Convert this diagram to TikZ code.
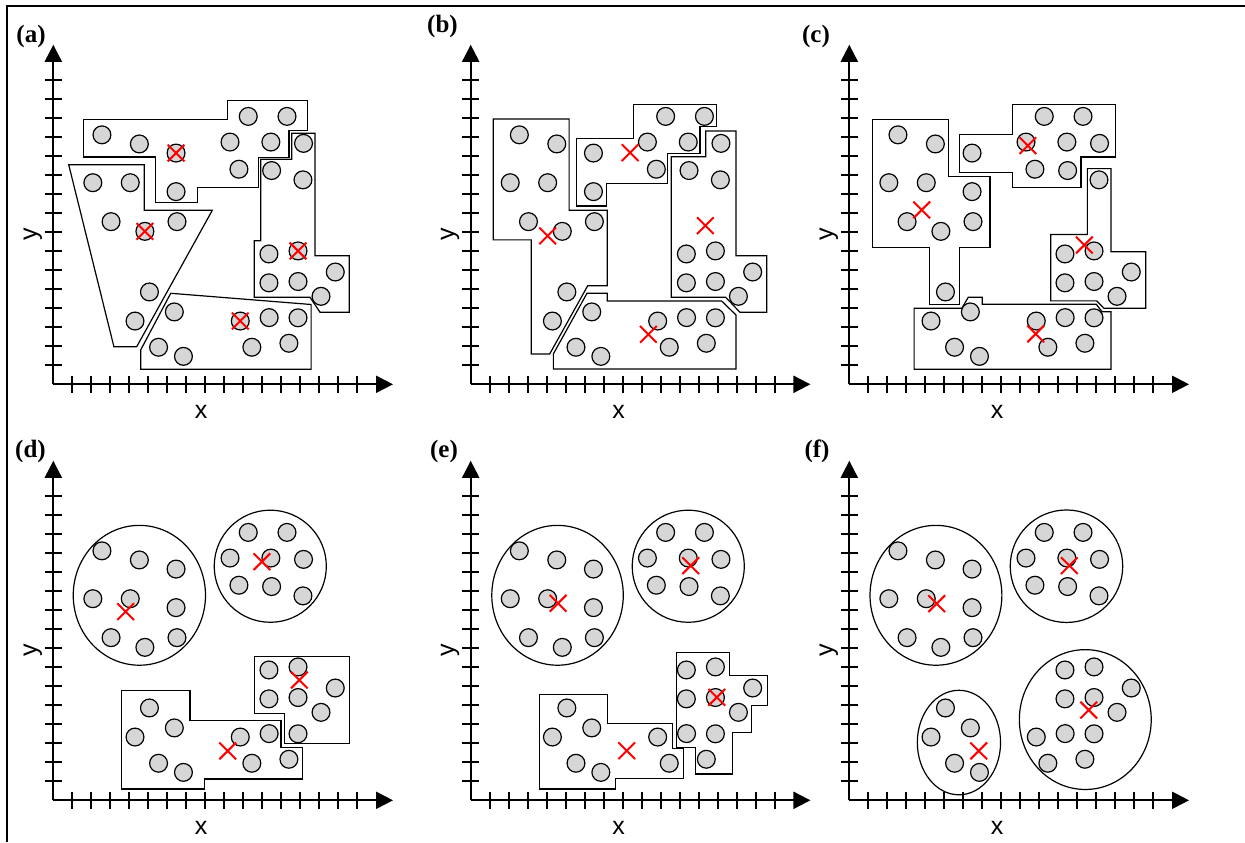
\documentclass[tikz,border=0pt]{standalone}
\usepackage{fontspec}
\setmainfont{Liberation Serif}
\setsansfont{Liberation Sans}
\usetikzlibrary{arrows.meta}
\tikzset{
 axisline/.style={line width=1.05pt, -{Triangle[length=8.5pt,width=8.5pt]}},
 tickmark/.style={line width=1.05pt},
 region/.style={line width=0.6pt, line join=miter},
 datapt/.style={line width=0.6pt, fill=black!16, draw=black},
 centremark/.style={red, line width=1pt},
 plabel/.style={font=\fontsize{12.5}{14}\selectfont\bfseries, inner sep=0pt},
 alabel/.style={font=\fontsize{12.5}{14}\selectfont\sffamily, inner sep=0pt},
}
\newcommand\drawaxes[1]{%
  \draw[axisline] (0,0) -- (0,17.87);
  \draw[axisline] (0,0) -- (17.88,0);
  \foreach \k in {1,...,16} {\draw[tickmark] (\k,-0.44) -- (\k,0.44); \draw[tickmark] (-0.44,\k) -- (0.44,\k);}
  \node[alabel] (x#1) at (7.78,-1.43) {x};
  \node[alabel, rotate=90] (y#1) at (-1.08,7.9) {y};
}
\newcommand\drawpoints{%
  \foreach \a/\b in {2.56/13.13, 4.53/12.65, 6.46/12.17, 10.26/14.1, 12.3/14.1, 9.30/12.75, 11.45/12.75, 9.77/11.32, 6.46/10.14, 13.17/12.68, 11.49/11.25, 13.14/10.76, 2.08/10.61, 4.05/10.61, 3.04/8.56, 4.82/8.05, 6.51/8.56, 11.35/6.86, 12.88/7.02, 14.84/5.91, 11.35/5.34, 12.88/5.41, 14.09/4.63, 5.06/4.86, 4.30/3.33, 6.37/3.81, 5.54/1.95, 6.85/1.47, 9.84/3.33, 11.36/3.51, 12.88/3.50, 10.45/1.95, 12.40/2.16}
  {\draw[datapt] (\a,\b) circle (0.47);}
}
\newcommand\redcross[2]{\draw[centremark] (#1,#2) ++(-0.44,-0.44) -- ++(0.88,0.88) (#1,#2) ++(-0.44,0.44) -- ++(0.88,-0.88);}
\begin{document}
\begin{tikzpicture}
\useasboundingbox (0,0) rectangle (622.5pt,421pt);
\fill[white] (0,0) rectangle (622.5pt,421pt);
\draw[line width=1pt] (3.65pt,0pt) -- (3.65pt,418.15pt) -- (623pt,418.15pt);
% panel labels
\node[plabel] (la) at (15.5pt,403pt) {(a)};
\node[plabel] (lb) at (221.25pt,408pt) {(b)};
\node[plabel] (lc) at (408pt,403pt) {(c)};
\node[plabel] (ld) at (15.25pt,195.5pt) {(d)};
\node[plabel] (le) at (222pt,195.5pt) {(e)};
\node[plabel] (lf) at (408.5pt,195.5pt) {(f)};

% ---------- (a)
\begin{scope}[shift={(26.65pt,228.85pt)}, x=9.5pt, y=9.5pt]
\drawaxes{a}
\draw[region] (1.58,13.95) -- (9.18,13.95) -- (9.18,14.93) -- (13.39,14.93) -- (13.39,13.35) -- (12.41,13.35) -- (12.41,11.95) -- (10.79,11.95) -- (10.79,10.37) -- (7.58,10.37) -- (7.58,9.58) -- (5.39,9.58) -- (5.39,11.96) -- (1.58,11.96) -- cycle;
\draw[region] (0.81,11.56) -- (4.79,11.56) -- (4.79,9.16) -- (8.37,9.16) -- (4.39,1.98) -- (3.19,1.98) -- cycle;
\draw[region] (12.55,13.21) -- (13.77,13.21) -- (13.77,6.77) -- (15.58,6.77) -- (15.58,3.79) -- (14.04,3.79) -- (13.51,4.58) -- (10.58,4.58) -- (10.58,7.56) -- (10.92,7.56) -- (10.92,11.84) -- (12.55,11.84) -- cycle;
\draw[region] (6.18,4.79) -- (13.57,4.20) -- (13.57,0.79) -- (4.60,0.79) -- (4.60,1.81) -- cycle;
\drawpoints
\redcross{6.46}{12.17}
\redcross{4.82}{8.05}
\redcross{12.88}{7.02}
\redcross{9.84}{3.33}
\end{scope}

% ---------- (b)
\begin{scope}[shift={(235.35pt,228.85pt)}, x=9.5pt, y=9.5pt]
\drawaxes{b}
\draw[region] (1.19,13.96) -- (5.18,13.96) -- (5.18,9.16) -- (7.19,9.16) -- (7.19,5.19) -- (6.16,5.19) -- (4.16,1.60) -- (3.19,1.60) -- (3.19,7.60) -- (1.19,7.60) -- cycle;
\draw[region] (5.58,12.95) -- (8.56,12.95) -- (8.56,14.74) -- (12.95,14.74) -- (12.95,13.56) -- (12.07,13.56) -- (12.07,12.16) -- (10.35,12.16) -- (10.35,10.58) -- (7.16,10.58) -- (7.16,9.38) -- (5.58,9.38) -- cycle;
\draw[region] (12.37,13.33) -- (13.96,13.33) -- (13.96,6.77) -- (15.58,6.77) -- (15.58,3.79) -- (14.17,3.79) -- (13.42,4.58) -- (10.55,4.58) -- (10.55,11.98) -- (12.37,11.98) -- cycle;
\draw[region] (6.12,4.79) -- (7.19,4.79) -- (7.19,4.38) -- (13.21,4.38) -- (13.96,3.65) -- (13.96,0.81) -- (4.35,0.81) -- (4.35,1.60) -- cycle;
\drawpoints
\redcross{8.39}{12.19}
\redcross{4.05}{7.81}
\redcross{12.35}{8.35}
\redcross{9.35}{2.63}
\end{scope}

% ---------- (c)
\begin{scope}[shift={(424.65pt,228.85pt)}, x=9.5pt, y=9.5pt]
\drawaxes{c}
\draw[region] (1.23,13.95) -- (5.21,13.95) -- (5.21,10.95) -- (7.40,10.95) -- (7.40,7.18) -- (5.82,7.18) -- (5.82,4.21) -- (4.23,4.21) -- (4.23,7.18) -- (1.23,7.18) -- cycle;
\draw[region] (5.79,13.14) -- (8.60,13.14) -- (8.60,14.74) -- (14.0,14.74) -- (14.0,11.96) -- (12.19,11.96) -- (12.19,10.37) -- (8.60,10.37) -- (8.60,11.16) -- (5.79,11.16) -- cycle;
\draw[region] (12.53,11.35) -- (13.77,11.35) -- (13.77,6.98) -- (15.60,6.98) -- (15.60,4.00) -- (13.40,4.00) -- (13.02,4.39) -- (10.60,4.39) -- (10.60,7.88) -- (12.53,7.88) -- cycle;
\draw[region] (3.41,4.00) -- (5.92,4.00) -- (6.26,4.58) -- (7.00,4.58) -- (7.00,4.21) -- (13.0,4.21) -- (13.3,3.82) -- (13.77,3.82) -- (13.77,0.79) -- (3.41,0.79) -- cycle;
\drawpoints
\redcross{9.40}{12.56}
\redcross{3.81}{9.18}
\redcross{12.37}{7.33}
\redcross{9.81}{2.65}
\end{scope}

% ---------- (d)
\begin{scope}[shift={(26.65pt,20.85pt)}, x=9.5pt, y=9.5pt]
\drawaxes{d}
\draw[region] (4.53,10.79) ellipse [x radius=3.48, y radius=3.68];
\draw[region] (11.42,12.32) circle (2.95);
\draw[region] (10.58,7.56) -- (15.58,7.56) -- (15.58,3.0) -- (12.16,3.0) -- (12.16,4.58) -- (10.58,4.58) -- cycle;
\draw[region] (3.60,5.79) -- (7.19,5.79) -- (7.19,4.18) -- (11.98,4.18) -- (11.98,2.79) -- (13.11,2.79) -- (13.11,1.12) -- (7.96,1.12) -- (7.96,0.60) -- (3.60,0.60) -- cycle;
\drawpoints
\redcross{3.81}{9.93}
\redcross{10.98}{12.56}
\redcross{12.95}{6.33}
\redcross{9.18}{2.60}
\end{scope}

% ---------- (e)
\begin{scope}[shift={(235.35pt,20.85pt)}, x=9.5pt, y=9.5pt]
\drawaxes{e}
\draw[region] (4.57,10.79) ellipse [x radius=3.46, y radius=3.68];
\draw[region] (11.45,12.32) circle (2.95);
\draw[region] (10.81,7.77) -- (13.60,7.77) -- (13.60,6.56) -- (15.60,6.56) -- (15.60,4.98) -- (14.79,4.98) -- (14.79,3.58) -- (13.79,3.58) -- (13.79,1.39) -- (11.81,1.39) -- (11.81,2.79) -- (10.81,2.79) -- cycle;
\draw[region] (3.61,5.58) -- (7.21,5.58) -- (7.21,4.05) -- (10.60,4.05) -- (10.60,2.74) -- (11.18,2.74) -- (11.18,1.16) -- (7.60,1.16) -- (7.60,0.60) -- (3.61,0.60) -- cycle;
\drawpoints
\redcross{4.60}{10.37}
\redcross{11.58}{12.35}
\redcross{12.95}{5.42}
\redcross{8.21}{2.61}
\end{scope}

% ---------- (f)
\begin{scope}[shift={(424.65pt,20.85pt)}, x=9.5pt, y=9.5pt]
\drawaxes{f}
\draw[region] (4.56,10.79) ellipse [x radius=3.47, y radius=3.68];
\draw[region] (11.43,12.32) circle (2.96);
\draw[region] (5.77,3.04) ellipse [x radius=2.19, y radius=2.75];
\draw[region] (12.42,4.25) ellipse [x radius=3.47, y radius=3.68];
\drawpoints
\redcross{4.60}{10.35}
\redcross{11.58}{12.35}
\redcross{6.81}{2.60}
\redcross{12.60}{4.75}
\end{scope}
\end{tikzpicture}
\end{document}
